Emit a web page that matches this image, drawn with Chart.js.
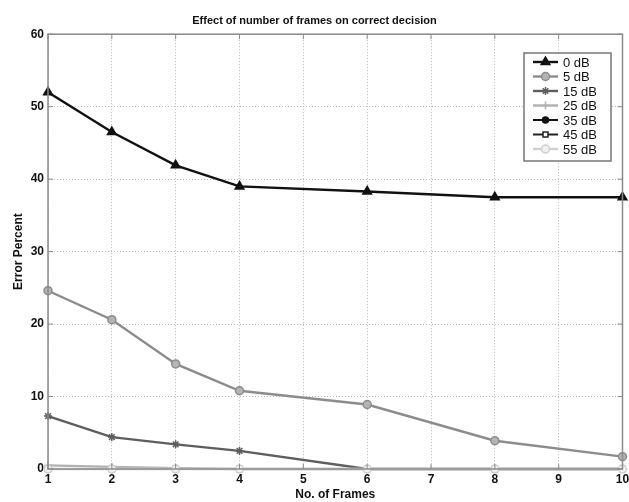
<!DOCTYPE html>
<html>
<head>
<meta charset="utf-8">
<script src="https://cdn.jsdelivr.net/npm/chart.js@4/dist/chart.umd.min.js"></script>
<style>
  html, body { margin: 0; padding: 0; background: #fff; }
  #wrap { width: 629px; height: 502px; }
</style>
</head>
<body>
<div id="wrap"><canvas id="FramesChart"></canvas></div>
<script>
// values
const frames = [1, 2, 3, 4, 6, 8, 10]
const err0dB  = [52.0, 46.5, 41.9, 39.0, 38.3, 37.5, 37.5]
const err5dB  = [24.6, 20.6, 14.5, 10.8, 8.9, 3.9, 1.7]
const err15dB = [7.3, 4.4, 3.4, 2.5, 0, 0, 0]
const err25dB = [0.5, 0.3, 0.1, 0, 0, 0, 0]
const err35dB = [0, 0, 0, 0, 0, 0, 0]
const err45dB = [0, 0, 0, 0, 0, 0, 0]
const err55dB = [0, 0, 0, 0, 0, 0, 0]
const seriesLabels = ['0 dB', '5 dB', '15 dB', '25 dB', '35 dB', '45 dB', '55 dB']
const yTicks = [0, 10, 20, 30, 40, 50, 60]

const FONT = "'Liberation Sans', Arial, sans-serif"

const toPoints = (vals) => frames.map((f, i) => ({x: f, y: vals[i]}))

const mkSet = (idx, vals, color, style, radius, fill, width) => ({
    label: seriesLabels[idx],
    data: toPoints(vals),
    order: 6 - idx,   // later series on top, like the original plot
    borderColor: color,
    backgroundColor: fill,
    borderWidth: width,
    pointStyle: style,
    pointRadius: radius,
    pointBorderColor: color,
    pointBackgroundColor: fill,
    pointBorderWidth: 1.5,
    tension: 0,
    clip: false
})

const datasets = [
    mkSet(0, err0dB, '#111', 'triangle', 5, '#111', 2.4),
    mkSet(1, err5dB, '#8c8c8c', 'circle', 4, '#b4b4b4', 2.4),
    mkSet(2, err15dB, '#5e5e5e', 'star', 4, '#5e5e5e', 2.4),
    mkSet(3, err25dB, '#b0b0b0', 'cross', 4, '#b0b0b0', 2.4),
    mkSet(4, err35dB, '#111', 'circle', 3, '#111', 2),
    mkSet(5, err45dB, '#222', 'rect', 3.5, '#fff', 2),
    mkSet(6, err55dB, '#cfcfcf', 'circle', 4, '#f0f0f0', 2.4)
]

// box around the axes, with small inward ticks like the original
const frameBox = {
    id: 'frameBox',
    afterDraw(chart) {
        const {ctx, chartArea: a, scales} = chart
        ctx.save()
        ctx.strokeStyle = '#8a8a8a'
        ctx.lineWidth = 1.5
        ctx.strokeRect(a.left, a.top, a.right - a.left, a.bottom - a.top)
        ctx.lineWidth = 1
        for (let v = 1; v <= 10; v++) {
            const px = scales.x.getPixelForValue(v)
            ctx.beginPath()
            ctx.moveTo(px, a.bottom); ctx.lineTo(px, a.bottom - 5)
            ctx.moveTo(px, a.top); ctx.lineTo(px, a.top + 5)
            ctx.stroke()
        }
        yTicks.forEach(v => {
            const py = scales.y.getPixelForValue(v)
            ctx.beginPath()
            ctx.moveTo(a.left, py); ctx.lineTo(a.left + 5, py)
            ctx.moveTo(a.right, py); ctx.lineTo(a.right - 5, py)
            ctx.stroke()
        })
        ctx.restore()
    }
}

// legend box drawn inside the plot, top right
const innerLegend = {
    id: 'innerLegend',
    afterDraw(chart) {
        const {ctx} = chart
        const x0 = 524, y0 = 53, w = 87, h = 108, rowH = 14.5
        ctx.save()
        ctx.fillStyle = '#fff'
        ctx.fillRect(x0, y0, w, h)
        ctx.strokeStyle = '#777'
        ctx.lineWidth = 1.5
        ctx.strokeRect(x0, y0, w, h)
        ctx.font = '13px ' + FONT
        ctx.textBaseline = 'middle'
        chart.data.datasets.forEach((ds, i) => {
            const cy = y0 + 9 + i * rowH
            ctx.strokeStyle = ds.borderColor
            ctx.lineWidth = ds.borderWidth
            ctx.beginPath()
            ctx.moveTo(x0 + 9, cy); ctx.lineTo(x0 + 34, cy)
            ctx.stroke()
            ctx.fillStyle = ds.pointBackgroundColor
            ctx.strokeStyle = ds.pointBorderColor
            ctx.lineWidth = ds.pointBorderWidth
            Chart.helpers.drawPoint(ctx, {pointStyle: ds.pointStyle, radius: ds.pointRadius, rotation: 0, borderWidth: 1.5}, x0 + 21.5, cy)
            ctx.fillStyle = '#111'
            ctx.fillText(ds.label, x0 + 39, cy + 1)
        })
        ctx.restore()
    }
}

const ctl = document.getElementById('FramesChart')
window.framesChart = new Chart(ctl, {
    type: 'line',
    data: { datasets: datasets },
    plugins: [frameBox, innerLegend],
    options: {
        responsive: true,
        maintainAspectRatio: false,
        animation: false,
        layout: { padding: 0 },
        plugins: {
            legend: { display: false },
            tooltip: { enabled: false },
            title: {
                display: true,
                text: 'Effect of number of frames on correct decision',
                color: '#111',
                font: { family: FONT, size: 11, weight: 'bold' },
                padding: { top: 14, bottom: 7 }
            }
        },
        scales: {
            x: {
                type: 'linear',
                min: 1,
                max: 10,
                border: { display: false, dash: [1, 2] },
                grid: { color: '#b8b8b8', drawTicks: false, lineWidth: 1 },
                ticks: {
                    stepSize: 1,
                    padding: 3,
                    color: '#111',
                    maxRotation: 0,
                    font: { family: FONT, size: 12, weight: 'bold' }
                },
                title: {
                    display: true,
                    text: 'No. of Frames',
                    color: '#111',
                    padding: { top: 0, bottom: 0 },
                    font: { family: FONT, size: 12, weight: 'bold' }
                },
                afterFit: (s) => { s.height = 33; s.paddingRight = 4; s.paddingLeft = 0 }
            },
            y: {
                min: 0,
                max: 60,
                border: { display: false, dash: [1, 2] },
                grid: { color: '#b8b8b8', drawTicks: false, lineWidth: 1 },
                ticks: {
                    stepSize: 10,
                    padding: 4,
                    color: '#111',
                    font: { family: FONT, size: 12, weight: 'bold' }
                },
                title: {
                    display: true,
                    text: 'Error Percent',
                    color: '#111',
                    padding: { top: 11, bottom: 4 },
                    font: { family: FONT, size: 12, weight: 'bold' }
                },
                afterFit: (s) => { s.width = 48 }
            }
        }
    }
})
</script>
</body>
</html>
